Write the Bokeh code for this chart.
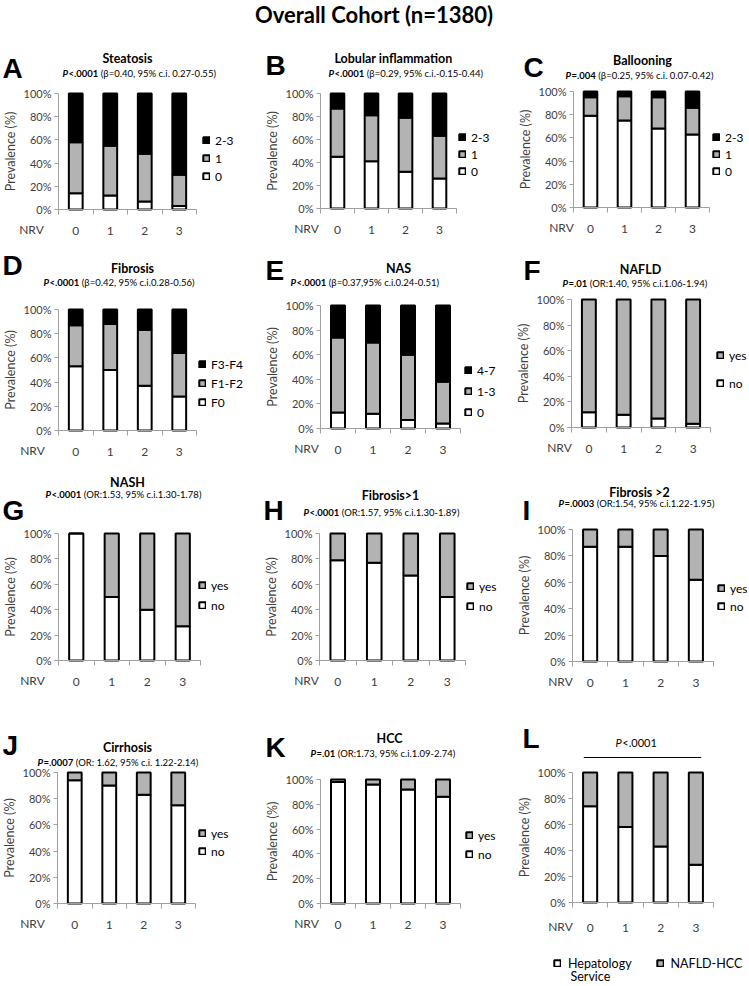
from bokeh.plotting import figure
from bokeh.layouts import column, row
from bokeh.models import (Range1d, FixedTicker, NumeralTickFormatter, Label, Legend,
                          LegendItem, ColumnDataSource, LinearAxis)
from bokeh.embed import file_html
from bokeh.resources import INLINE
from bokeh.core.validation import silence
from bokeh.core.validation.warnings import MISSING_RENDERERS

silence(MISSING_RENDERERS, True)

# ---------------- data (prevalence, % of patients per NRV group) ----------------
nrv = [0, 1, 2, 3]
nrv_labels = ["0", "1", "2", "3"]

steatosis_0 = [14, 12, 7, 3]
steatosis_1 = [44, 43, 41, 27]
steatosis_2_3 = [42, 45, 52, 70]

lobular_0 = [45, 41, 32, 26]
lobular_1 = [42, 40, 47, 37]
lobular_2_3 = [13, 19, 21, 37]

ballooning_0 = [79, 75, 68, 63]
ballooning_1 = [16, 21, 27, 23]
ballooning_2_3 = [5, 4, 5, 14]

fibrosis_f0 = [53, 50, 37, 28]
fibrosis_f1_f2 = [34, 38, 46, 36]
fibrosis_f3_f4 = [13, 12, 17, 36]

nas_0 = [13, 12, 7, 4]
nas_1_3 = [61, 58, 53, 34]
nas_4_7 = [26, 30, 40, 62]

nafld_no = [12, 10, 7, 3]
nafld_yes = [88, 90, 93, 97]

nash_no = [100, 50, 40, 27]
nash_yes = [0, 50, 60, 73]

fibrosis_gt1_no = [79, 77, 67, 50]
fibrosis_gt1_yes = [21, 23, 33, 50]

fibrosis_gt2_no = [87, 87, 80, 62]
fibrosis_gt2_yes = [13, 13, 20, 38]

cirrhosis_no = [94, 90, 83, 75]
cirrhosis_yes = [6, 10, 17, 25]

hcc_no = [98, 96, 92, 86]
hcc_yes = [2, 4, 8, 14]

hepatology_service = [74, 58, 43, 29]
nafld_hcc = [26, 42, 57, 71]

y_ticks = [0, 0.2, 0.4, 0.6, 0.8, 1.0]

WHITE, GRAY, BLACK = "#ffffff", "#b3b3b3", "#000000"
AXIS_C = "#a0a0a0"
TXT_C = "#404040"
FONT = "Lato"

panels = [
    dict(letter="A", title="Steatosis", op="<.0001", stats="(β=0.40, 95% c.i. 0.27-0.55)",
         series=[("0", steatosis_0, WHITE), ("1", steatosis_1, GRAY), ("2-3", steatosis_2_3, BLACK)]),
    dict(letter="B", title="Lobular inflammation", op="<.0001", stats="(β=0.29, 95% c.i.-0.15-0.44)",
         series=[("0", lobular_0, WHITE), ("1", lobular_1, GRAY), ("2-3", lobular_2_3, BLACK)]),
    dict(letter="C", title="Ballooning", op="=.004", stats="(β=0.25, 95% c.i. 0.07-0.42)",
         series=[("0", ballooning_0, WHITE), ("1", ballooning_1, GRAY), ("2-3", ballooning_2_3, BLACK)]),
    dict(letter="D", title="Fibrosis", op="<.0001", stats="(β=0.42, 95% c.i.0.28-0.56)",
         series=[("F0", fibrosis_f0, WHITE), ("F1-F2", fibrosis_f1_f2, GRAY), ("F3-F4", fibrosis_f3_f4, BLACK)]),
    dict(letter="E", title="NAS", op="<.0001", stats="(β=0.37,95% c.i.0.24-0.51)",
         series=[("0", nas_0, WHITE), ("1-3", nas_1_3, GRAY), ("4-7", nas_4_7, BLACK)]),
    dict(letter="F", title="NAFLD", op="=.01", stats="(OR:1.40, 95% c.i.1.06-1.94)",
         series=[("no", nafld_no, WHITE), ("yes", nafld_yes, GRAY)]),
    dict(letter="G", title="NASH", op="<.0001", stats="(OR:1.53, 95% c.i.1.30-1.78)",
         series=[("no", nash_no, WHITE), ("yes", nash_yes, GRAY)]),
    dict(letter="H", title="Fibrosis>1", op="<.0001", stats="(OR:1.57, 95% c.i.1.30-1.89)",
         series=[("no", fibrosis_gt1_no, WHITE), ("yes", fibrosis_gt1_yes, GRAY)]),
    dict(letter="I", title="Fibrosis >2", op="=.0003", stats="(OR:1.54, 95% c.i.1.22-1.95)",
         series=[("no", fibrosis_gt2_no, WHITE), ("yes", fibrosis_gt2_yes, GRAY)]),
    dict(letter="J", title="Cirrhosis", op="=.0007", stats="(OR: 1.62, 95% c.i. 1.22-2.14)",
         series=[("no", cirrhosis_no, WHITE), ("yes", cirrhosis_yes, GRAY)]),
    dict(letter="K", title="HCC", op="=.01", stats="(OR:1.73, 95% c.i.1.09-2.74)",
         series=[("no", hcc_no, WHITE), ("yes", hcc_yes, GRAY)]),
    dict(letter="L", title=None, op="<.0001", stats=None,
         series=[("Hepatology", hepatology_service, WHITE), ("NAFLD-HCC", nafld_hcc, GRAY)]),
]

# ---------------- layout geometry (page pixel coordinates) ----------------
cols = [(0, 249), (249, 497), (497, 747)]
rows_y = [(36, 240), (240, 462), (462, 702), (702, 984)]

geom = {
    "A": dict(frame=(58, 196, 93, 209), letter=(2, 68), title=(127, 58), sub=(62, 73), legend=(202, 143, 17), nrv=31),
    "B": dict(frame=(320, 456, 93, 208), letter=(265, 65), title=(393, 58), sub=(328, 73), legend=(458, 140, 16), nrv=306),
    "C": dict(frame=(573, 709, 91, 207), letter=(523, 67), title=(642, 60), sub=(565, 75), legend=(712, 140, 16), nrv=561),
    "D": dict(frame=(58, 196, 309, 430), letter=(2, 265), title=(132, 268), sub=(43, 282), legend=(198, 367, 18), nrv=32),
    "E": dict(frame=(320, 460, 305, 428), letter=(265, 270), title=(398, 268), sub=(290, 282), legend=(464, 373, 20), nrv=306),
    "F": dict(frame=(571, 710, 299, 427), letter=(523, 270), title=(640, 269), sub=(562, 283), legend=(716, 357, 27), nrv=559),
    "G": dict(frame=(58, 200, 533, 660), letter=(2, 510), title=(127, 482), sub=(45, 494), legend=(198, 587, 19), nrv=32),
    "H": dict(frame=(319, 465, 533, 660), letter=(263, 510), title=(390, 495), sub=(303, 512), legend=(466, 588, 19), nrv=306),
    "I": dict(frame=(572, 713, 529, 661), letter=(522, 510), title=(639, 492), sub=(558, 503), legend=(717, 590, 17), nrv=560),
    "J": dict(frame=(57, 195, 772, 903), letter=(2, 745), title=(127, 747), sub=(37, 762), legend=(198, 835, 17), nrv=32),
    "K": dict(frame=(320, 460, 779, 903), letter=(265, 747), title=(389, 738), sub=(310, 753), legend=(465, 837, 18), nrv=306),
    "L": dict(frame=(572, 713, 772, 902), letter=(522, 738), title=None, sub=(615, 742), legend=None, nrv=560, std=16),
}

LEG_SHIFT = 3.5   # empirical correction of the legend box position
GLYPH = 8

EM = {c: 0.58 for c in "0123456789<=>"}
EM.update({".": 0.25, ",": 0.25, "P": 0.62, " ": 0.26, ":": 0.25})


def est_w(s, size):
    return sum(EM.get(c, 0.55) for c in s) * size


def add_text(p, g, X, Y, text, size, style="normal", font=FONT, align="left",
             baseline="middle", color="black"):
    FL, FR, FT, FB = g["frame"]
    p.add_layout(Label(x=-0.5, y=1.0, x_offset=X - FL, y_offset=FT - Y, text=text,
                       text_font=font, text_font_size=f"{size}px", text_font_style=style,
                       text_align=align, text_baseline=baseline, text_color=color))


def build(spec, g, cell):
    cx0, cx1, cy0, cy1 = cell
    FL, FR, FT, FB = g["frame"]
    s = (FR - FL) / 4.0          # pixels per category
    ppu = float(FB - FT)         # pixels per 100 %
    std = g.get("std", 12)
    x_range = Range1d(-0.5 - (FL - cx0) / s, 3.5 + (cx1 - FR) / s)
    y_range = Range1d(-(cy1 - FB) / ppu, 1.0 + (FT - cy0) / ppu)
    p = figure(width=cx1 - cx0, height=cy1 - cy0, x_range=x_range, y_range=y_range,
               toolbar_location=None, output_backend="svg",
               x_axis_location=None, y_axis_location=None, min_border=0)
    p.grid.visible = False
    p.outline_line_color = None

    data = {"nrv": nrv}
    names = []
    for i, (lab, vals, col) in enumerate(spec["series"]):
        data[f"s{i}"] = [v / 100 for v in vals]
        names.append(f"s{i}")
    src = ColumnDataSource(data)
    rs = p.vbar_stack(names, x="nrv", width=0.4, source=src,
                      fill_color=[c for _, _, c in spec["series"]],
                      line_color="black", line_width=2)

    # axes drawn at the plot-area edges through data locations
    xa = LinearAxis(fixed_location=0.0,
                    ticker=FixedTicker(ticks=nrv, minor_ticks=[-0.5, 0.5, 1.5, 2.5, 3.5]),
                    major_label_overrides={k: v for k, v in zip(nrv, nrv_labels)},
                    bounds=(-0.5, 3.5), axis_line_color=AXIS_C,
                    major_tick_out=0, major_tick_in=0, minor_tick_out=5, minor_tick_in=0,
                    minor_tick_line_color=AXIS_C, major_label_standoff=std,
                    major_label_text_font=FONT, major_label_text_font_size="12px",
                    major_label_text_color=TXT_C)
    p.add_layout(xa, "below")

    ya = LinearAxis(fixed_location=-0.5,
                    ticker=FixedTicker(ticks=y_ticks, minor_ticks=[]),
                    formatter=NumeralTickFormatter(format="0%"),
                    bounds=(0, 1), axis_line_color=AXIS_C, major_tick_line_color=AXIS_C,
                    major_tick_out=4, major_tick_in=0, minor_tick_line_color=None,
                    major_label_standoff=3, major_label_text_font=FONT,
                    major_label_text_font_size="11px", major_label_text_color=TXT_C,
                    axis_label="Prevalence (%)", axis_label_standoff=3,
                    axis_label_text_font=FONT, axis_label_text_font_size="12.5px",
                    axis_label_text_font_style="normal", axis_label_text_color=TXT_C)
    p.add_layout(ya, "left")

    # NRV label on x-axis line
    add_text(p, g, g["nrv"], FB + std, "NRV", 12, align="center", baseline="top", color=TXT_C)

    # panel letter
    lx, ly = g["letter"]
    add_text(p, g, lx, ly, spec["letter"], 28, style="bold", font="Liberation Sans",
             baseline="alphabetic")

    # title & subtitle
    sx, sy = g["sub"]
    if spec["title"] is not None:
        tx, ty = g["title"]
        add_text(p, g, tx, ty, spec["title"], 12.5, style="bold", align="center")
        fs = 9.5
        add_text(p, g, sx, sy, "P", fs, style="bold italic")
        x2 = sx + est_w("P", fs)
        add_text(p, g, x2, sy, spec["op"], fs, style="bold")
        x3 = x2 + est_w(spec["op"], fs) + 2.5
        add_text(p, g, x3, sy, spec["stats"], fs)
    else:
        fs = 11
        add_text(p, g, sx, sy, "P", fs, style="italic")
        add_text(p, g, sx + est_w("P", fs), sy, spec["op"], fs)
        # bracket line over all groups
        line_y = 1.0 + 15.0 / ppu
        p.segment(x0=[nrv[0] - 0.18], y0=[line_y], x1=[nrv[-1] + 0.15], y1=[line_y],
                  line_color="black", line_width=1)

    # legend
    if g["legend"] is not None:
        sqx, c0, pitch = g["legend"]
        n = len(rs)
        lh = 14
        sp = int(round(pitch - lh))
        top = c0 - GLYPH / 2 - LEG_SHIFT
        bottom = top + n * lh + (n - 1) * sp
        items = [LegendItem(label=lab, renderers=[r])
                 for (lab, _, _), r in zip(spec["series"], rs)][::-1]
        leg = Legend(items=items, location=(sqx - cx0, cy1 - bottom), orientation="vertical",
                     glyph_width=GLYPH, glyph_height=GLYPH, label_height=lh, label_width=10,
                     spacing=sp, padding=0, margin=0, label_standoff=5,
                     label_text_font=FONT, label_text_font_size="12px",
                     label_text_baseline="alphabetic", label_text_color="black",
                     border_line_color=None, background_fill_alpha=0)
        p.add_layout(leg)
    else:
        # bottom horizontal legend for panel L
        lh = 15
        top = 963 - GLYPH / 2 - LEG_SHIFT
        bottom = top + lh
        items = [LegendItem(label=lab, renderers=[r])
                 for (lab, _, _), r in zip(spec["series"], rs)]
        leg = Legend(items=items, location=(553 - cx0, cy1 - bottom), orientation="horizontal",
                     glyph_width=GLYPH, glyph_height=GLYPH, label_height=lh, label_width=10,
                     spacing=24, padding=0, margin=0, label_standoff=7,
                     label_text_font=FONT, label_text_font_size="12.5px",
                     label_text_baseline="alphabetic", label_text_color="black",
                     border_line_color=None, background_fill_alpha=0)
        p.add_layout(leg)
        add_text(p, g, 570, 976, "Service", 12.5)
    return p


figs = []
for idx, spec in enumerate(panels):
    r, c = divmod(idx, 3)
    cell = (cols[c][0], cols[c][1], rows_y[r][0], rows_y[r][1])
    figs.append(build(spec, geom[spec["letter"]], cell))

hdr = figure(width=747, height=36, x_range=Range1d(0, 1), y_range=Range1d(0, 1),
             toolbar_location=None, output_backend="svg", x_axis_location=None,
             y_axis_location=None, min_border=0, outline_line_color=None)
hdr.grid.visible = False
hdr.add_layout(Label(x=0.5, y=0.6, text="Overall Cohort (n=1380)", text_align="center",
                     text_baseline="middle", text_font=FONT, text_font_style="bold",
                     text_font_size="22px", text_color="black"))

p = column(hdr, row(*figs[0:3]), row(*figs[3:6]), row(*figs[6:9]), row(*figs[9:12]))

open("out.html", "w").write(file_html(p, INLINE))
